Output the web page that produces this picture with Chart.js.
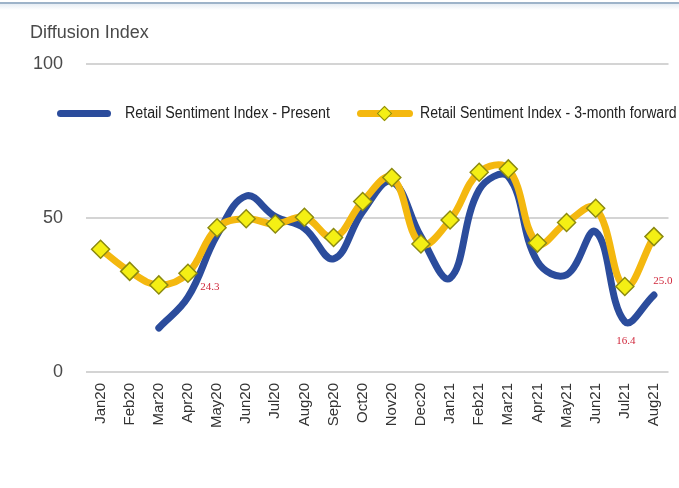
<!DOCTYPE html>
<html>
<head>
<meta charset="utf-8">
<script src="https://cdn.jsdelivr.net/npm/chart.js@4/dist/chart.umd.min.js"></script>
<style>
  html, body { margin: 0; padding: 0; background: #fff; }
  #wrap { position: relative; width: 679px; height: 488px; overflow: hidden; }
  #topline { position: absolute; left: 0; top: 2px; width: 679px; height: 2px; background: #9db3c9; }
  #topfade { position: absolute; left: 0; top: 4px; width: 679px; height: 6px; background: linear-gradient(#e6edf4, #fff); }
  canvas { position: absolute; left: 0; top: 0; }
  .leg { position: absolute; font-family: "Liberation Sans", Arial, sans-serif; font-size: 16px; color: #222; white-space: nowrap; transform-origin: left center; line-height: 18px; }
  .sw { position: absolute; height: 7px; border-radius: 4px; }
  .dia { position: absolute; width: 11px; height: 11px; background: #f4ef14; border: 1.5px solid #8c8a10; transform: rotate(45deg); box-sizing: border-box; }
</style>
</head>
<body>
<div id="wrap">
  <div id="topline"></div><div id="topfade"></div>
  <canvas id="c" width="679" height="488"></canvas>
  <div class="sw" id="sw1" style="left:57px; top:110px; width:54px; background:#2b4c9c;"></div>
  <div class="leg" id="lg1" style="left:125px; top:104px; transform: scaleX(0.89);"></div>
  <div class="sw" id="sw2" style="left:357px; top:110px; width:56px; background:#f4b80f;"></div>
  <div class="dia" style="left:379px; top:108px;"></div>
  <div class="leg" id="lg2" style="left:420px; top:104px; transform: scaleX(0.88);"></div>
</div>
<script>
const categories = ["Jan20","Feb20","Mar20","Apr20","May20","Jun20","Jul20","Aug20","Sep20","Oct20","Nov20","Dec20","Jan21","Feb21","Mar21","Apr21","May21","Jun21","Jul21","Aug21"];
const seriesNames = ["Retail Sentiment Index - Present", "Retail Sentiment Index - 3-month forward"];
const presentValues = [null, null, 14.3, 24.3, 44.5, 57.2, 50.5, 46.7, 36.8, 52.1, 61.9, 44.0, 30.5, 59.2, 63.5, 35.9, 31.6, 45.6, 16.4, 25.0];
const forwardValues = [39.9, 32.7, 28.3, 32.1, 46.9, 49.8, 48.1, 50.3, 43.7, 55.4, 63.2, 41.6, 49.4, 64.9, 66.0, 41.9, 48.6, 53.2, 27.8, 44.0];
const yTicks = [0, 50, 100];
const axisTitle = "Diffusion Index";
const labelledPoints = [
  { index: 3, text: "24.3" },
  { index: 18, text: "16.4" },
  { index: 19, text: "25.0" }
];
const labelOffsets = [[22, -10], [1, 20], [9, -14]];

document.getElementById('lg1').textContent = seriesNames[0];
document.getElementById('lg2').textContent = seriesNames[1];

const xLabelPlugin = {
  id: 'xLabels',
  afterDraw(chart) {
    const ctx = chart.ctx;
    const xs = chart.scales.x;
    const top = chart.chartArea.bottom + 11;
    ctx.save();
    ctx.fillStyle = '#333';
    ctx.font = '15px "Liberation Sans", Arial, sans-serif';
    ctx.textAlign = 'right';
    ctx.textBaseline = 'middle';
    categories.forEach((c, i) => {
      const x = xs.getPixelForValue(i);
      ctx.save();
      ctx.translate(x, top);
      ctx.rotate(-Math.PI / 2);
      ctx.fillText(c, 0, 0);
      ctx.restore();
    });
    ctx.restore();
  }
};

const valueLabelPlugin = {
  id: 'valueLabels',
  afterDatasetsDraw(chart) {
    const ctx = chart.ctx;
    const meta = chart.getDatasetMeta(0);
    ctx.save();
    ctx.fillStyle = '#d0283c';
    ctx.font = '11px "Liberation Serif", "Times New Roman", serif';
    ctx.textAlign = 'center';
    ctx.textBaseline = 'middle';
    labelledPoints.forEach((lp, k) => {
      const pt = meta.data[lp.index];
      ctx.fillText(lp.text, pt.x + labelOffsets[k][0], pt.y + labelOffsets[k][1]);
    });
    ctx.restore();
  }
};

new Chart(document.getElementById('c'), {
  type: 'line',
  data: {
    labels: categories,
    datasets: [
      {
        label: seriesNames[0],
        data: presentValues,
        borderColor: '#2b4c9c',
        borderWidth: 7,
        borderCapStyle: 'round',
        borderJoinStyle: 'round',
        pointRadius: 0,
        tension: 0.4,
        fill: false,
        order: 2
      },
      {
        label: seriesNames[1],
        data: forwardValues,
        borderColor: '#f4b80f',
        borderWidth: 7,
        borderCapStyle: 'round',
        borderJoinStyle: 'round',
        pointStyle: 'rectRot',
        pointRadius: 9,
        pointBackgroundColor: '#f4ef14',
        pointBorderColor: '#8c8a10',
        pointBorderWidth: 1.5,
        tension: 0.4,
        fill: false,
        order: 1
      }
    ]
  },
  options: {
    responsive: false,
    animation: false,
    layout: { padding: { left: 30, right: 5, top: 0, bottom: 0 } },
    plugins: {
      legend: { display: false },
      tooltip: { enabled: false },
      title: {
        display: true,
        text: axisTitle,
        align: 'start',
        color: '#4a4a4a',
        font: { family: '"Liberation Sans", Arial, sans-serif', size: 18, weight: 'normal' },
        padding: { top: 22, bottom: 20.7 }
      }
    },
    scales: {
      x: {
        offset: true,
        grid: { display: false, drawTicks: false },
        border: { display: false },
        ticks: { display: false },
        afterFit(s) { s.height = 116; }
      },
      y: {
        min: 0,
        max: 100,
        afterBuildTicks(s) { s.ticks = yTicks.map(v => ({ value: v })); },
        grid: { color: '#d4d4d4', lineWidth: 2, drawTicks: false },
        border: { display: false },
        ticks: {
          color: '#4a4a4a',
          padding: 23,
          font: { family: '"Liberation Sans", Arial, sans-serif', size: 18 }
        },
        afterFit(s) { s.width = 56; }
      }
    }
  },
  plugins: [xLabelPlugin, valueLabelPlugin]
});
</script>
</body>
</html>
